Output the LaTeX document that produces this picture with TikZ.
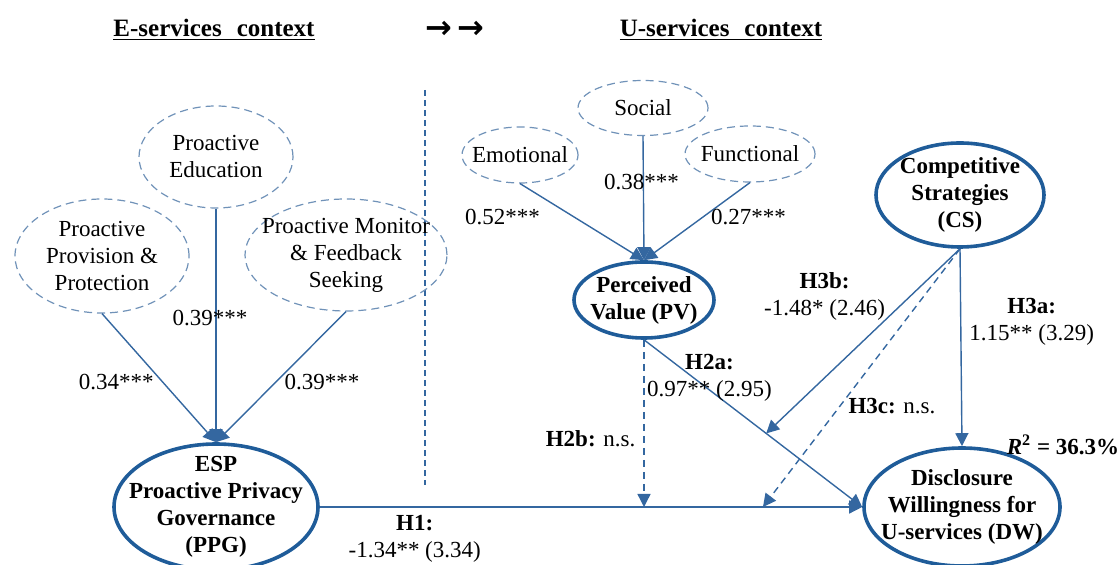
\documentclass[tikz,border=0pt,12pt]{standalone}
\usepackage{fontspec}
\setmainfont{Liberation Serif}
\newfontfamily\arrowfont{DejaVu Sans}
\usetikzlibrary{shapes.geometric}
\usetikzlibrary{arrows.meta}
\usetikzlibrary{calc}

\definecolor{ellblue}{HTML}{1F5C99}
\definecolor{lineblue}{HTML}{3467A0}
\definecolor{dashblue}{HTML}{7092B8}

\begin{document}
\begin{tikzpicture}[x=0.5pt,y=-0.5pt,>/.tip={Triangle[length=6.5pt,width=6.5pt]},
	txt/.style={font=\fontsize{11.5}{13.5}\selectfont,align=center},
	btxt/.style={font=\fontsize{11.5}{13.5}\selectfont\bfseries,align=center},
	dim/.style={ellipse,draw=dashblue,line width=0.6pt,dash pattern=on 4pt off 2.5pt},
	construct/.style={ellipse,draw=ellblue,line width=1.8pt},
	link/.style={draw=lineblue,line width=0.7pt,->},
	nslink/.style={link,dash pattern=on 3.5pt off 2.5pt}]
	\useasboundingbox (0,0) rectangle (1119,565);

	% headings
	\node[btxt,font=\fontsize{12.5}{14}\selectfont\bfseries] (ehead) at (214,30) {\underline{E-services\hspace{0.6em}context}};
	\node[btxt] (towards) at (455,30) {\fontsize{16}{16}\arrowfont →\,→};
	\node[btxt,font=\fontsize{12.5}{14}\selectfont\bfseries] (uhead) at (721,30) {\underline{U-services\hspace{0.6em}context}};
	\coordinate (septop) at (425,90);
	\coordinate (sepbot) at (425,485);
	\draw[draw=lineblue,line width=0.7pt,dash pattern=on 3pt off 2pt] (septop) -- (sepbot);

	% e-services side
	\node[dim,minimum width=77pt,minimum height=51pt,label={[txt]center:Proactive\\Education}] (edu) at (216,157) {};
	\node[dim,minimum width=87pt,minimum height=57pt,label={[txt]center:Proactive\\Provision \&\\Protection}] (prov) at (102,256) {};
	\node[dim,minimum width=101pt,minimum height=56pt,label={[txt]center:Proactive Monitor\\\& Feedback\\Seeking}] (mon) at (346,255) {};
	\node[construct,minimum width=102pt,minimum height=63pt,label={[btxt]center:ESP\\Proactive Privacy\\Governance\\(PPG)}] (ppg) at (216,507) {};

	% u-services side
	\node[dim,minimum width=65pt,minimum height=27.5pt,label={[txt]center:Social}] (soc) at (643,108) {};
	\node[dim,minimum width=58pt,minimum height=28pt,label={[txt]center:Emotional}] (emo) at (520,155) {};
	\node[dim,minimum width=65pt,minimum height=28pt,label={[txt]center:Functional}] (fun) at (750,154) {};
	\node[construct,minimum width=70pt,minimum height=38pt,label={[btxt]center:Perceived\\Value (PV)}] (pv) at (644,300) {};
	\node[construct,minimum width=84pt,minimum height=52pt,label={[btxt]center:Competitive\\Strategies\\(CS)}] (cs) at (960,195) {};
	\node[construct,minimum width=98pt,minimum height=59pt,label={[btxt]center:Disclosure\\Willingness for\\U-services (DW)}] (dw) at (962,507) {};
	\node[btxt] (rsq) at (1063,445) {\textit{R}\textsuperscript{2} = 36.3\%};

	% paths
	\draw[link] (prov.south) -- node[txt,pos=0.53,left] {0.34***} (ppg.north);
	\draw[link] (edu.south) -- node[txt,pos=0.47,xshift=-3pt] {0.39***} (ppg.north);
	\draw[link] (mon.south) -- node[txt,pos=0.54,right] {0.39***} (ppg.north);
	\draw[link] (emo.south) -- node[txt,pos=0.44,left=13pt] {0.52***} (pv.north);
	\draw[link] (soc.south) -- node[txt,pos=0.37,xshift=-1pt] {0.38***} (pv.north);
	\draw[link] (fun.south) -- node[txt,pos=0.45,right] {0.27***} (pv.north);

	\draw[link] (ppg.east) -- node[txt,pos=0.175,below] {\textbf{H1:}\\-1.34** (3.34)} (dw.west);
	\draw[link] (pv.south) -- node[txt,pos=0.3,yshift=6pt] {\textbf{H2a:}\\0.97** (2.95)} (dw.west);
	\coordinate (h2bend) at (pv.south |- dw.west);
	\draw[nslink] (pv.south) -- node[txt,pos=0.59,left] {\textbf{H2b:} n.s.} (h2bend);
	\draw[link] (cs.south) -- node[txt,pos=0.37,right] {\textbf{H3a:}\\1.15** (3.29)} (dw.north);
	\coordinate (h3bend) at ($(pv.south)!0.56!(dw.west)$);
	\draw[link] (cs.south) -- node[txt,pos=0.26,left=8pt] {\textbf{H3b:}\\-1.48* (2.46)} (h3bend);
	\coordinate (h3cend) at ($(ppg.east)!0.817!(dw.west)$);
	\draw[nslink] (cs.south) -- node[txt,pos=0.61,right] {\textbf{H3c:} n.s.} (h3cend);
\end{tikzpicture}
\end{document}
